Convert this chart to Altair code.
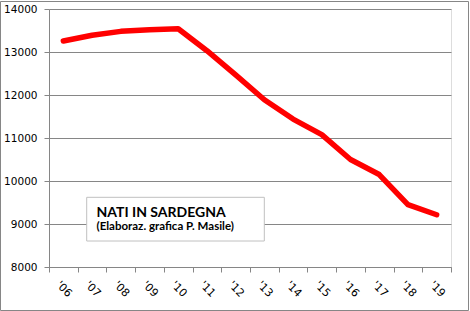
import altair as alt
import pandas as pd

years = ["'06", "'07", "'08", "'09", "'10", "'11", "'12", "'13", "'14", "'15", "'16", "'17", "'18", "'19"]
births = [13255, 13390, 13480, 13520, 13540, 13030, 12470, 11890, 11440, 11080, 10500, 10150, 9450, 9215]
y_ticks = [8000, 9000, 10000, 11000, 12000, 13000, 14000]
title_text = ["NATI IN SARDEGNA"]
subtitle_text = ["(Elaboraz. grafica P. Masile)"]

df = pd.DataFrame({"year": years, "births": births})
one = pd.DataFrame({"title": title_text, "subtitle": subtitle_text})

W, H = 402, 258
grey = "#868686"

x_enc = alt.X("year:N", sort=years, title=None,
              scale=alt.Scale(type="band", paddingInner=0, paddingOuter=0),
              axis=alt.Axis(tickBand="extent", labelAngle=45, labelAlign="center",
                            labelBaseline="middle", labelPadding=17, tickSize=5,
                            domainColor=grey, tickColor=grey, labelColor="#000",
                            labelFont="DejaVu Sans", labelFontSize=11, grid=False))
y_enc = alt.Y("births:Q", title=None,
              scale=alt.Scale(domain=[8000, 14000], nice=False, zero=False),
              axis=alt.Axis(values=y_ticks, format="d", tickSize=5, labelPadding=7,
                            domainColor=grey, tickColor=grey, gridColor=grey,
                            labelColor="#000", labelFont="DejaVu Sans", labelFontSize=10.5))

line = alt.Chart(df).mark_line(color="#ff0000", strokeWidth=5.5, strokeCap="round",
                               strokeJoin="round").encode(x=x_enc, y=y_enc)

frame = alt.Chart(one).mark_rect(fill=None, stroke=grey, strokeWidth=1, clip=False).encode(
    x=alt.value(-48.5), x2=alt.value(419.5), y=alt.value(-7.5), y2=alt.value(301.5))

box = alt.Chart(one).mark_rect(fill="white", stroke="#c0c0c0", strokeWidth=1).encode(
    x=alt.value(37.7), x2=alt.value(215.3), y=alt.value(188.3), y2=alt.value(232))

t1 = alt.Chart(one).mark_text(font="Lato", fontWeight="bold", fontSize=14,
                              align="left", baseline="alphabetic", color="#000").encode(
    text="title:N", x=alt.value(47.5), y=alt.value(207.7))
t2 = alt.Chart(one).mark_text(font="Lato", fontWeight="bold", fontSize=11.5,
                              align="left", baseline="alphabetic", color="#000").encode(
    text="subtitle:N", x=alt.value(47.5), y=alt.value(221))

chart = alt.layer(line, box, t1, t2, frame).properties(
    width=W, height=H,
    autosize=alt.AutoSizeParams(type="none"),
    padding={"left": 49, "top": 9, "right": 19, "bottom": 44},
).configure_view(stroke=None).configure(background="white")

chart.save("out.html", embed_options={"renderer": "svg", "actions": False})
